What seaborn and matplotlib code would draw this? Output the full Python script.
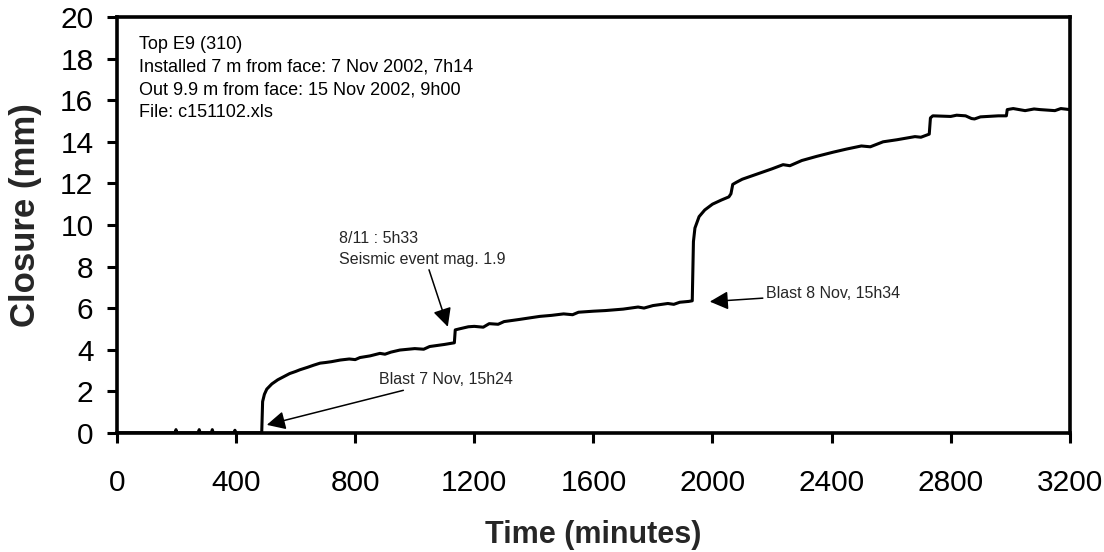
import matplotlib
matplotlib.use("Agg")
import matplotlib.pyplot as plt
import seaborn as sns
import pandas as pd

# Closure record (minutes since installation, closure in mm)
time_min = [0, 150, 195, 198, 201, 273, 276, 279, 317, 320, 323, 393, 396, 399,
            486, 489, 495, 503, 520, 540, 560, 580, 600, 614, 640, 660, 682, 700,
            720, 750, 780, 800, 816, 850, 883, 900, 920, 950, 1000, 1030, 1050, 1100,
            1133, 1136, 1150, 1180, 1200, 1230, 1250, 1280, 1300, 1350, 1387, 1420,
            1460, 1500, 1530, 1550, 1600, 1640, 1666, 1700, 1750, 1770, 1800, 1850,
            1870, 1890, 1920, 1932, 1936, 1941, 1955, 1974, 2000, 2030, 2055, 2062,
            2068, 2080, 2100, 2150, 2200, 2237, 2260, 2300, 2350, 2405, 2450, 2500,
            2530, 2573, 2620, 2680, 2700, 2728, 2732, 2740, 2800, 2820, 2850, 2870,
            2880, 2900, 2960, 2987, 2990, 3010, 3050, 3080, 3100, 3150, 3170, 3200]
closure_mm = [0.0, 0.0, 0.0, 0.15, 0.0, 0.0, 0.15, 0.0, 0.0, 0.15, 0.0, 0.0, 0.12, 0.0,
              0.0, 1.5, 1.85, 2.1, 2.35, 2.55, 2.7, 2.85, 2.95, 3.03, 3.15, 3.25, 3.35, 3.38,
              3.42, 3.5, 3.55, 3.52, 3.62, 3.7, 3.82, 3.78, 3.88, 3.98, 4.05, 4.02, 4.15, 4.25,
              4.33, 4.95, 5.0, 5.1, 5.12, 5.08, 5.25, 5.22, 5.35, 5.45, 5.53, 5.6,
              5.65, 5.72, 5.68, 5.8, 5.85, 5.88, 5.91, 5.95, 6.05, 6.0, 6.12, 6.22,
              6.18, 6.28, 6.32, 6.35, 9.2, 9.85, 10.4, 10.72, 11.0, 11.2, 11.35, 11.5,
              11.95, 12.05, 12.2, 12.45, 12.7, 12.9, 12.85, 13.1, 13.3, 13.5, 13.65, 13.8,
              13.76, 14.0, 14.1, 14.25, 14.22, 14.37, 15.15, 15.25, 15.22, 15.28, 15.25, 15.12,
              15.1, 15.2, 15.25, 15.25, 15.55, 15.6, 15.5, 15.58, 15.55, 15.5, 15.6, 15.55]

x_ticks = [0, 400, 800, 1200, 1600, 2000, 2400, 2800, 3200]
y_ticks = [0, 2, 4, 6, 8, 10, 12, 14, 16, 18, 20]

info_lines = ["Top E9 (310)",
              "Installed 7 m from face: 7 Nov 2002, 7h14",
              "Out 9.9 m from face: 15 Nov 2002, 9h00",
              "File: c151102.xls"]

sns.set_theme(style="white")
plt.rcParams["font.family"] = ["Liberation Sans", "DejaVu Sans"]

df = pd.DataFrame({"Time (minutes)": time_min, "Closure (mm)": closure_mm})

fig, ax = plt.subplots(figsize=(11.04, 5.52), dpi=100)
fig.subplots_adjust(left=0.106, right=0.969, top=0.969, bottom=0.216)

sns.lineplot(data=df, x="Time (minutes)", y="Closure (mm)", ax=ax,
             color="black", linewidth=2.2, estimator=None, sort=False)

ax.set_xlim(0, 3200)
ax.set_ylim(0, 20)
ax.set_xticks(x_ticks)
ax.set_yticks(y_ticks)
ax.tick_params(axis="both", direction="out", length=7, width=2.2,
               labelsize=21.5, colors="black", bottom=True, left=True)
ax.tick_params(axis="x", pad=19)
ax.tick_params(axis="y", pad=10)
for sp in ax.spines.values():
    sp.set_visible(True)
    sp.set_color("black")
    sp.set_linewidth(2.6)

ax.set_xlabel("Time (minutes)", fontsize=22, fontweight="bold", labelpad=17)
ax.set_ylabel("Closure (mm)", fontsize=25, fontweight="bold")
ax.yaxis.set_label_coords(-0.079, 0.524)

ax.text(0.023, 0.955, "\n".join(info_lines), transform=ax.transAxes,
        fontsize=13, va="top", ha="left", linespacing=1.45, color="black")

arrow = dict(arrowstyle="-|>", color="black", lw=1.1, mutation_scale=28,
             shrinkA=0, shrinkB=0)

ax.annotate("Blast 7 Nov, 15h24", xy=(503, 0.38), xytext=(880, 2.2),
            fontsize=11.5, ha="left", va="bottom", arrowprops=arrow)
ax.annotate("8/11 : 5h33\nSeismic event mag. 1.9", xy=(1111, 5.1), xytext=(745, 8.0),
            fontsize=11.5, ha="left", va="bottom", linespacing=1.45,
            arrowprops=arrow)
ax.annotate("Blast 8 Nov, 15h34", xy=(1991, 6.31), xytext=(2180, 6.7),
            fontsize=11.5, ha="left", va="center", arrowprops=arrow)

fig.savefig("out.png", dpi=100)
